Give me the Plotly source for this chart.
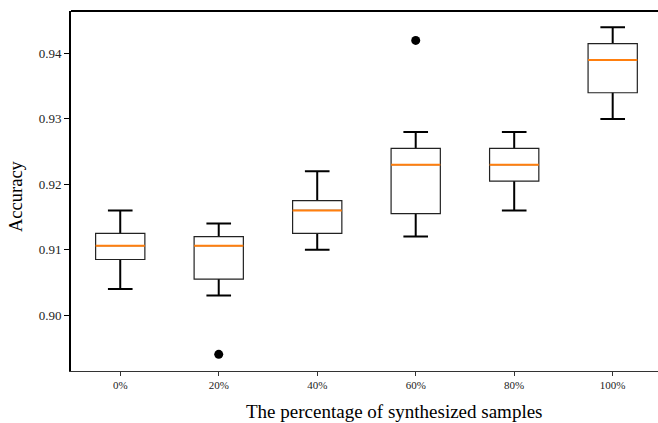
import plotly.graph_objects as go

categories = ["0%", "20%", "40%", "60%", "80%", "100%"]
lower = [0.904, 0.903, 0.910, 0.912, 0.916, 0.930]
q1 = [0.9085, 0.9055, 0.9125, 0.9155, 0.9205, 0.934]
median = [0.9106, 0.9106, 0.916, 0.923, 0.923, 0.939]
q3 = [0.9125, 0.912, 0.9175, 0.9255, 0.9255, 0.9415]
upper = [0.916, 0.914, 0.922, 0.928, 0.928, 0.944]
outlier_x = ["20%", "60%"]
outlier_y = [0.894, 0.942]

font_family = "Liberation Serif, Times New Roman, serif"

fig = go.Figure()

# whiskers (thick), drawn as a degenerate box so only whiskers + caps show
fig.add_trace(go.Box(
    x=categories, q1=median, median=median, q3=median,
    lowerfence=lower, upperfence=upper,
    width=0.5, whiskerwidth=0.5,
    line=dict(color="black", width=2), fillcolor="rgba(0,0,0,0)",
    boxpoints=False, showlegend=False, hoverinfo="skip",
))
# boxes (thin outline, white fill)
fig.add_trace(go.Box(
    x=categories, q1=q1, median=median, q3=q3,
    lowerfence=q1, upperfence=q3,
    width=0.5, whiskerwidth=0,
    line=dict(color="#222222", width=1.2), fillcolor="white",
    boxpoints=False, showlegend=False,
))
# medians (orange)
fig.add_trace(go.Box(
    x=categories, q1=median, median=median, q3=median,
    lowerfence=median, upperfence=median,
    width=0.5, whiskerwidth=0,
    line=dict(color="#ff7f0e", width=2), fillcolor="rgba(0,0,0,0)",
    boxpoints=False, showlegend=False, hoverinfo="skip",
))
# outliers
fig.add_trace(go.Scatter(
    x=outlier_x, y=outlier_y, mode="markers",
    marker=dict(color="black", size=9),
    showlegend=False,
))

fig.update_layout(
    width=658, height=423,
    margin=dict(l=71, r=0, t=11, b=52),
    plot_bgcolor="white", paper_bgcolor="white",
    font=dict(family=font_family, color="black"),
    boxmode="overlay",
    xaxis=dict(
        type="category", categoryorder="array", categoryarray=categories,
        range=[-0.5, 5.46],
        showgrid=False, zeroline=False,
        showline=True, linecolor="#333333", linewidth=1,
        ticks="outside", ticklen=4, tickwidth=1, tickcolor="#333333",
        tickfont=dict(size=11, family=font_family, color="#222222"),
    ),
    yaxis=dict(
        range=[0.89145, 0.9465],
        tickvals=[0.90, 0.91, 0.92, 0.93, 0.94],
        ticktext=["0.90", "0.91", "0.92", "0.93", "0.94"],
        showgrid=False, zeroline=False,
        showline=True, linecolor="black", linewidth=2,
        ticks="outside", ticklen=5, tickwidth=1.2, tickcolor="black",
        tickfont=dict(size=13, family=font_family, color="#222222"),
    ),
    shapes=[dict(type="line", xref="paper", yref="paper",
                 x0=0, x1=1, y0=1, y1=1,
                 line=dict(color="black", width=2))],
    annotations=[
        dict(text="The percentage of synthesized samples", xref="paper", yref="paper",
             x=(394 - 71) / 587, y=-(411 - 371) / 360, xanchor="center", yanchor="middle",
             showarrow=False, font=dict(size=19, family=font_family, color="black")),
        dict(text="Accuracy", xref="paper", yref="paper",
             x=-(71 - 16) / 587, y=(371 - 196) / 360, xanchor="center", yanchor="middle",
             textangle=-90, showarrow=False,
             font=dict(size=18.5, family=font_family, color="black")),
    ],
)

fig.write_html("out.html")
